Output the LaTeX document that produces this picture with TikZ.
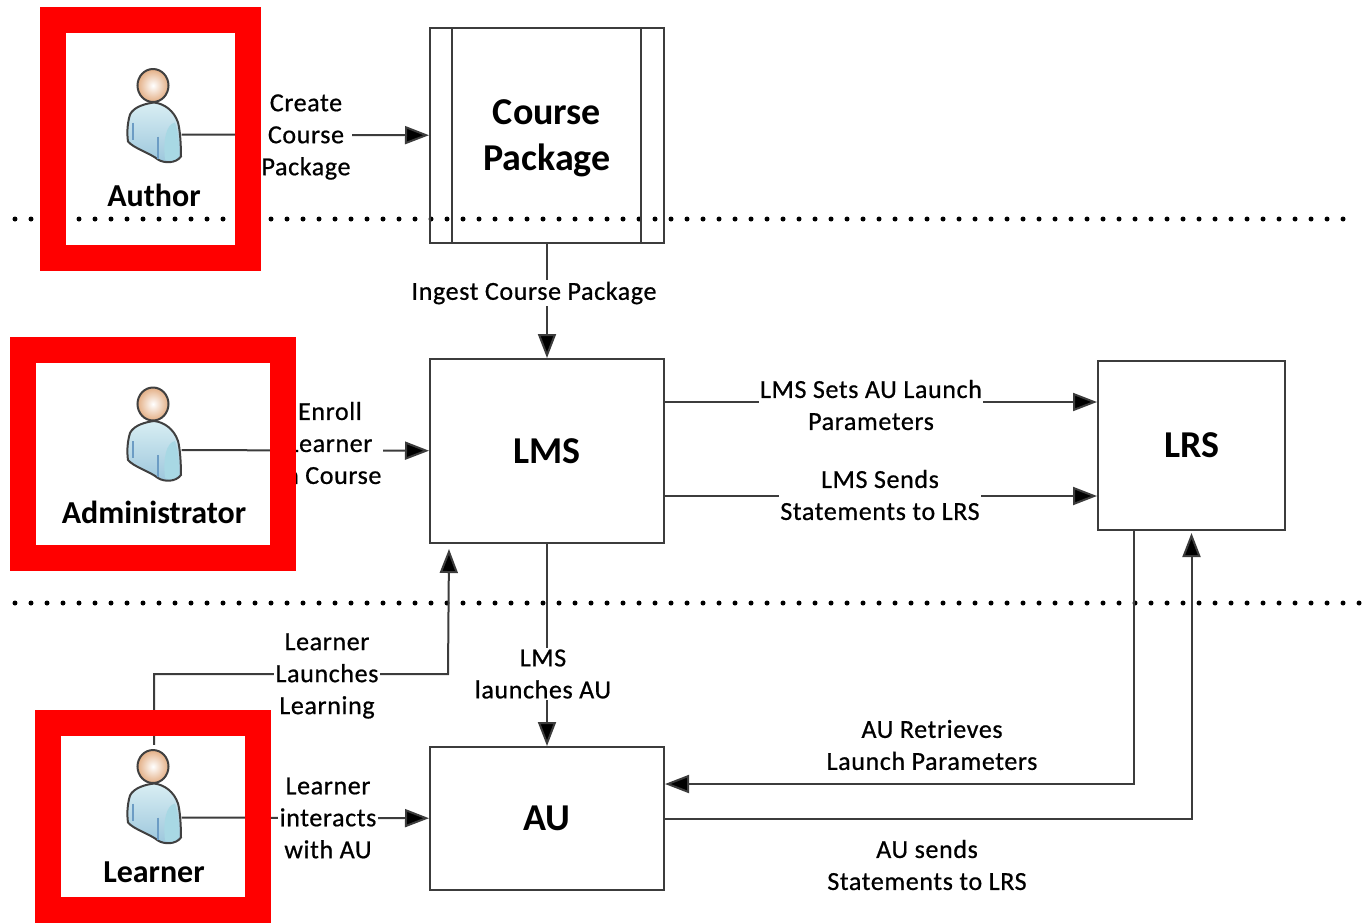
\documentclass[tikz,border=0pt]{standalone}
\usepackage{fontspec}
\setmainfont{Carlito}
\newfontfamily\labelfont[LetterSpace=2.4,RawFeature={embolden=0.7}]{Carlito}
\usetikzlibrary{arrows.meta,positioning}
\definecolor{linegray}{HTML}{3C3C3C}
\definecolor{bodyblue}{HTML}{9CC6DC}
\definecolor{bodylight}{HTML}{D8EEF3}
\definecolor{bodyfold}{HTML}{6C9CC4}
\definecolor{sleeveblue}{HTML}{A8D8E4}
\definecolor{skintone}{HTML}{E3AE84}
\tikzset{
    boxnode/.style={draw=linegray,line width=0.02cm,anchor=north west,inner sep=0pt,align=center,font=\fontsize{10.8}{13}\selectfont\bfseries},
    boxtitle/.style={inner sep=0pt,align=center,font=\fontsize{10.8}{13}\selectfont\bfseries},
    link/.style={draw=linegray,line width=0.02cm,-{Triangle[length=0.24cm,width=0.18cm,fill=black]}},
    linklabel/.style={fill=white,inner sep=0.4pt,align=center,text=black,font=\fontsize{7.4}{9.1}\selectfont\labelfont},
    actorname/.style={inner sep=0pt,font=\fontsize{9.1}{10}\selectfont\bfseries},
    actorspot/.style={inner sep=0pt,minimum width=0.54cm,minimum height=1.44cm},
    redframe/.style={draw=red,line width=0.26cm},
    divider/.style={line width=0.05cm,line cap=round,dash pattern=on 0pt off 0.16cm},
    actor/.pic={
        \draw[draw=black!75,line width=0.02cm,top color=bodylight,bottom color=bodyblue]
            (0,0.32) .. controls (-0.08,0.31) and (-0.2,0.28) .. (-0.24,0.2)
            .. controls (-0.27,0.1) and (-0.27,0) .. (-0.26,-0.07)
            .. controls (-0.2,-0.14) and (-0.05,-0.18) .. (0.04,-0.25)
            .. controls (0.1,-0.29) and (0.22,-0.29) .. (0.27,-0.22)
            .. controls (0.27,-0.1) and (0.26,0.05) .. (0.24,0.12)
            .. controls (0.2,0.24) and (0.1,0.31) .. (0,0.32) -- cycle;
        \fill[sleeveblue] (0.11,-0.25) .. controls (0.09,-0.05) and (0.12,0.1) .. (0.21,0.12)
            .. controls (0.25,0) and (0.25,-0.12) .. (0.25,-0.22)
            .. controls (0.2,-0.27) and (0.15,-0.27) .. (0.11,-0.25) -- cycle;
        \draw[bodyfold,line width=0.015cm] (-0.21,0.12) -- (-0.21,-0.05);
        \draw[bodyfold,line width=0.015cm] (0.04,-0.02) -- (0.04,-0.24);
        \draw[draw=black!75,line width=0.02cm,inner color=white,outer color=skintone]
            (-0.01,0.49) ellipse (0.155 and 0.165);
    }
}
\begin{document}
\begin{tikzpicture}
    \useasboundingbox (0,-9.23) rectangle (13.71,0);

    \draw[divider] (0.15,-2.19) -- (13.5,-2.19);
    \draw[divider] (0.15,-6.03) -- (13.65,-6.03);

    \node[boxnode,minimum width=2.34cm,minimum height=2.15cm] (package) at (4.29,-0.27) {};
    \node[boxtitle,yshift=-0.03cm] (packagetitle) at (package) {Course\\Package};
    \draw[draw=linegray,line width=0.02cm] ([xshift=0.23cm]package.north west) -- ([xshift=0.23cm]package.south west);
    \draw[draw=linegray,line width=0.02cm] ([xshift=-0.24cm]package.north east) -- ([xshift=-0.24cm]package.south east);
    \node[boxnode,minimum width=2.34cm,minimum height=1.84cm] (lms) at (4.29,-3.58) {LMS};
    \node[boxnode,minimum width=1.87cm,minimum height=1.69cm] (lrs) at (10.97,-3.60) {LRS};
    \node[boxnode,minimum width=2.34cm,minimum height=1.43cm] (au) at (4.29,-7.46) {AU};

    \node[actorspot] (author) at (1.54,-1.345) {};
    \node[actorspot] (admin) at (1.54,-4.50) {};
    \node[actorspot] (learner) at (1.54,-8.175) {};
    \coordinate (launchbend) at (4.48,-6.74);

    \draw[link] (author) -- (package);
    \draw[link] (package) -- (lms);
    \draw[link] (admin) -- (lms);
    \draw[link] ([yshift=0.49cm]lms.east) -- ([yshift=0.49cm]lms.east -| lrs.west);
    \draw[link] ([yshift=-0.45cm]lms.east) -- ([yshift=-0.45cm]lms.east -| lrs.west);
    \draw[link] (lms) -- (au);
    \draw[link] (learner.north) |- (launchbend) -- ([xshift=-0.98cm,yshift=-0.05cm]lms.south);
    \draw[link] (learner) -- (au);
    \draw[link] ([xshift=-0.58cm]lrs.south) |- ([yshift=0.345cm]au.east);
    \draw[link] (au) -| ([yshift=-0.02cm]lrs.south);

    \pic at (author) {actor};
    \pic[yshift=-0.03cm] at (admin) {actor};
    \pic[yshift=0.02cm] at (learner) {actor};

    \node[linklabel] (createlabel) at (3.06,-1.37) {Create\\Course\\Package};
    \node[linklabel] (ingestlabel) at (5.34,-2.93) {Ingest Course Package};
    \node[linklabel] (enrolllabel) at (3.30,-4.43) {Enroll\\Learner\\in Course};
    \node[linklabel] (setslabel) at (8.71,-4.05) {LMS Sets AU Launch\\Parameters};
    \node[linklabel] (sendslabel) at (8.80,-4.95) {LMS Sends\\Statements to LRS};
    \node[linklabel] (launcheslabel) at (3.27,-6.76) {Learner\\Launches\\Learning};
    \node[linklabel] (lmsaulabel) at (5.43,-6.74) {LMS\\launches AU};
    \node[linklabel] (interactslabel) at (3.28,-8.18) {Learner\\interacts\\with AU};
    \node[linklabel] (retrieveslabel) at (9.32,-7.45) {AU Retrieves\\Launch Parameters};
    \node[linklabel] (auwriteslabel) at (9.27,-8.65) {AU sends\\Statements to LRS};

    \draw[redframe] (0.53,-0.20) rectangle (2.475,-2.575);
    \draw[redframe] (0.23,-3.50) rectangle (2.83,-5.575);
    \draw[redframe] (0.48,-7.225) rectangle (2.58,-9.10);

    \node[actorname] (authorname) at (1.54,-1.95) {Author};
    \node[actorname] (adminname) at (1.54,-5.12) {Administrator};
    \node[actorname] (learnername) at (1.54,-8.72) {Learner};
\end{tikzpicture}
\end{document}
